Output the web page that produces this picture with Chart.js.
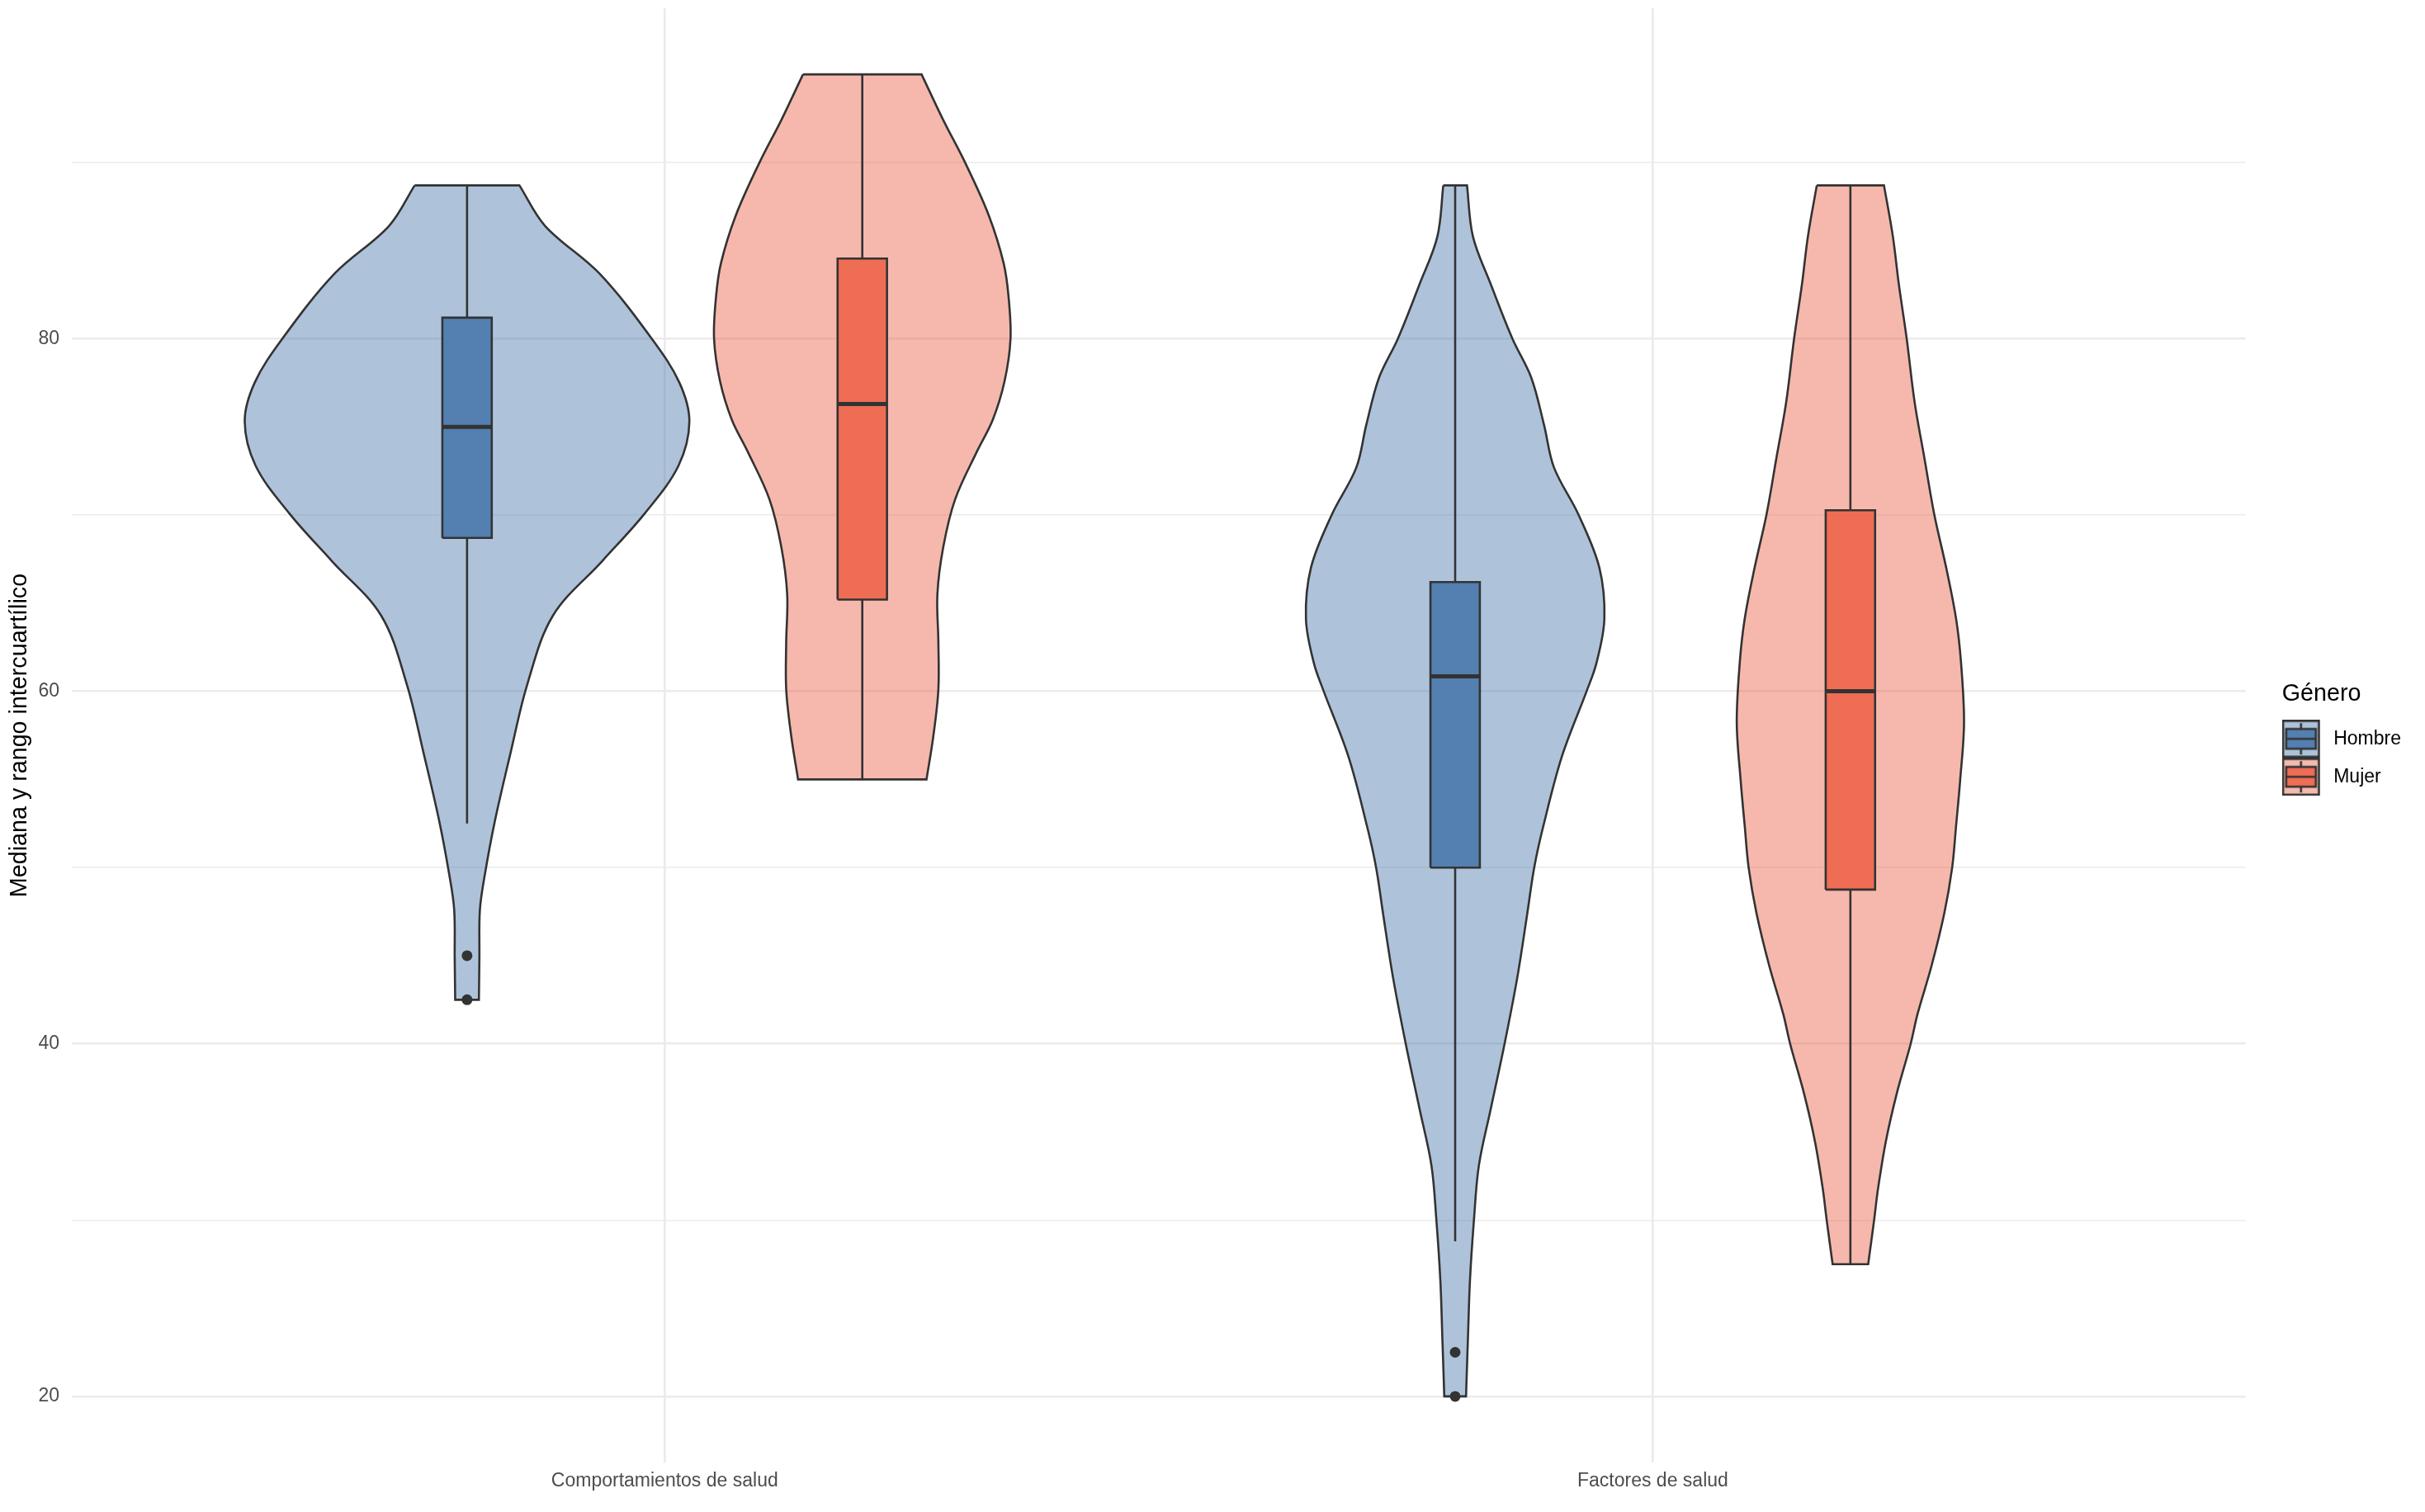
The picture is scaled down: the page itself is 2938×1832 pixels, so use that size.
<!DOCTYPE html>
<html lang="es">
<head>
<meta charset="UTF-8">
<title>Mediana y rango intercuartílico por género</title>
<script src="https://cdn.jsdelivr.net/npm/chart.js"></script>
<style>
  html, body { margin: 0; padding: 0; background: #fff; }
  #wrap { width: 2938px; height: 1832px; }
</style>
</head>
<body>
<div id="wrap"><canvas id="violinChart"></canvas></div>
<script>
// categories and groups
const categories = ['Comportamientos de salud', 'Factores de salud'];
const genders = ['Hombre', 'Mujer'];

// y ticks
const yMajorTicks = [20, 40, 60, 80];
const yMinorTicks = [30, 50, 70, 90];

// violin outlines, top to bottom: [value, half width in x-axis units]
const violinHombreComp = [[88.7, 0.053], [86.4, 0.079], [83.7, 0.134], [80.0, 0.187], [77.5, 0.215],
  [75.3, 0.225], [72.8, 0.214], [70.1, 0.180], [67.4, 0.137], [64.3, 0.087], [60.4, 0.061],
  [56.5, 0.044], [52.6, 0.028], [49.6, 0.018], [47.6, 0.013], [44.9, 0.0125], [42.5, 0.012]];
const violinMujerComp = [[95.0, 0.060], [92.4, 0.082], [90.0, 0.104], [87.0, 0.128], [84.3, 0.143],
  [82.4, 0.148], [80.0, 0.150], [77.6, 0.144], [75.4, 0.132], [73.6, 0.116], [70.9, 0.094],
  [68.2, 0.082], [65.5, 0.076], [62.8, 0.077], [60.1, 0.077], [57.5, 0.072], [55.0, 0.065]];
const violinHombreFact = [[88.7, 0.012], [85.8, 0.018], [83.1, 0.036], [80.0, 0.058], [77.8, 0.077],
  [75.1, 0.090], [72.7, 0.100], [70.0, 0.125], [67.0, 0.146], [64.1, 0.151], [61.6, 0.143],
  [60.0, 0.133], [56.3, 0.108], [52.3, 0.089], [50.0, 0.080], [47.4, 0.073], [43.8, 0.063],
  [40.0, 0.050], [36.3, 0.036], [33.1, 0.024], [30.0, 0.019], [26.6, 0.015], [23.4, 0.013], [20.0, 0.011]];
const violinMujerFact = [[88.7, 0.034], [85.8, 0.043], [83.1, 0.049], [80.0, 0.057], [76.4, 0.065],
  [73.2, 0.075], [70.0, 0.085], [67.0, 0.097], [64.1, 0.107], [61.6, 0.112], [58.2, 0.115],
  [54.9, 0.111], [52.4, 0.107], [50.0, 0.103], [47.4, 0.095], [44.4, 0.082], [41.7, 0.068],
  [40.0, 0.061], [37.2, 0.047], [34.5, 0.036], [31.8, 0.028], [30.0, 0.024], [27.5, 0.018]];

// boxes: [lower whisker, Q1, median, Q3, upper whisker]
const boxHombreComp = [52.5, 68.7, 75.0, 81.2, 88.7];
const boxMujerComp = [55.0, 65.2, 76.3, 84.55, 95.0];
const boxHombreFact = [28.8, 50.0, 60.85, 66.2, 88.7];
const boxMujerFact = [27.5, 48.75, 60.0, 70.27, 88.7];

// outliers
const outHombreComp = [45.0, 42.5];
const outMujerComp = [];
const outHombreFact = [22.5, 20.0];
const outMujerFact = [];

const boxColors = ['#5380B0', '#EE6D54'];
const violinColors = ['rgba(83,128,176,0.47)', 'rgba(235,105,80,0.47)'];
const legendFill = ['#AEC3DA', '#F5B9AE'];
const ink = '#333333';
const gridColor = '#EBEBEB';
const family = "'Liberation Sans', Arial, sans-serif";

const groups = [
  { cat: 0, g: 0, violin: violinHombreComp, box: boxHombreComp, out: outHombreComp },
  { cat: 0, g: 1, violin: violinMujerComp, box: boxMujerComp, out: outMujerComp },
  { cat: 1, g: 0, violin: violinHombreFact, box: boxHombreFact, out: outHombreFact },
  { cat: 1, g: 1, violin: violinMujerFact, box: boxMujerFact, out: outMujerFact }
];

const dodge = 0.2;
const boxHalf = 0.025;

function violinPoints(profile, cx) {
  const right = profile.map(([y, w]) => ({ x: cx + w, y }));
  const leftRev = profile.slice().reverse().map(([y, w]) => ({ x: cx - w, y }));
  const tl = leftRev[leftRev.length - 1], tr = right[0];
  const br = right[right.length - 1], bl = leftRev[0];
  // corners doubled so the flat ends stay straight under tension
  return [tl, tr].concat(right, [br, bl], leftRev, [tl]);
}

const datasets = [];
groups.forEach(gr => {
  const cx = gr.cat + 1 + (gr.g === 0 ? -dodge : dodge);
  const [lo, q1, med, q3, hi] = gr.box;
  datasets.push({
    data: violinPoints(gr.violin, cx),
    backgroundColor: violinColors[gr.g], borderColor: ink, borderWidth: 2.6,
    fill: 'shape', tension: 0.35, order: 4
  });
  datasets.push({
    data: [{ x: cx, y: lo }, { x: cx, y: hi }],
    borderColor: ink, borderWidth: 2.6, fill: false, order: 3
  });
  datasets.push({
    data: [{ x: cx - boxHalf, y: q1 }, { x: cx + boxHalf, y: q1 }, { x: cx + boxHalf, y: q3 },
      { x: cx - boxHalf, y: q3 }, { x: cx - boxHalf, y: q1 }],
    backgroundColor: boxColors[gr.g], borderColor: ink, borderWidth: 2.6,
    fill: 'shape', tension: 0, order: 2
  });
  datasets.push({
    data: [{ x: cx - boxHalf, y: med }, { x: cx + boxHalf, y: med }],
    borderColor: ink, borderWidth: 5, fill: false, order: 1
  });
  if (gr.out.length) {
    datasets.push({
      data: gr.out.map(v => ({ x: cx, y: v })),
      showLine: false, pointRadius: 6.5, pointBackgroundColor: ink, pointBorderWidth: 0, order: 0
    });
  }
});

// legend keys (violin square + small boxplot), padded on the right so the key lines up with the title
function legendIcon(i) {
  const c = document.createElement('canvas');
  c.width = 74; c.height = 46;
  const g = c.getContext('2d');
  g.fillStyle = legendFill[i];
  g.fillRect(1, 1, 44, 44);
  g.strokeStyle = ink; g.lineWidth = 2.6;
  g.strokeRect(1.3, 1.3, 43.4, 43.4);
  g.beginPath(); g.moveTo(23, 4); g.lineTo(23, 42); g.stroke();
  g.fillStyle = boxColors[i];
  g.fillRect(5, 11, 36, 24);
  g.strokeRect(5, 11, 36, 24);
  g.beginPath(); g.moveTo(5, 23); g.lineTo(41, 23); g.stroke();
  return c;
}
const legendIcons = genders.map((_, i) => legendIcon(i));

// no extra room for edge labels: the panel spans the whole area like in ggplot
function noEdgePadding(s) {
  s.paddingTop = 0; s.paddingBottom = 0; s.paddingLeft = 0; s.paddingRight = 0;
}

Chart.defaults.font.family = family;

new Chart(document.getElementById('violinChart'), {
  type: 'line',
  data: { datasets },
  options: {
    responsive: true,
    maintainAspectRatio: false,
    animation: false,
    events: [],
    elements: { point: { radius: 0 } },
    layout: { padding: { top: 10, right: 19, bottom: 0, left: 0 } },
    scales: {
      x: {
        type: 'linear', min: 0.4, max: 2.6,
        afterBuildTicks: s => { s.ticks = categories.map((_, i) => ({ value: i + 1 })); },
        afterFit: s => { s.height = 60; noEdgePadding(s); },
        grid: { color: gridColor, lineWidth: 2.6, drawTicks: false },
        border: { display: false },
        ticks: {
          padding: 9, color: '#4D4D4D', font: { size: 23 }, maxRotation: 0, autoSkip: false,
          callback: v => categories[Math.round(v) - 1]
        }
      },
      y: {
        type: 'linear', min: 16.25, max: 98.75,
        afterBuildTicks: s => {
          s.ticks = yMajorTicks.concat(yMinorTicks).sort((a, b) => a - b).map(v => ({ value: v }));
        },
        afterFit: s => { s.width = 87; noEdgePadding(s); },
        grid: {
          color: gridColor, drawTicks: false,
          lineWidth: ctx => (yMajorTicks.includes(ctx.tick && ctx.tick.value) ? 2.6 : 1.4)
        },
        border: { display: false },
        ticks: {
          padding: 15, color: '#4D4D4D', font: { size: 23 }, autoSkip: false,
          callback: v => (yMajorTicks.includes(v) ? String(v) : '')
        },
        title: {
          display: true, text: 'Mediana y rango intercuartílico', color: '#000',
          font: { size: 28.7 }, padding: { top: 7, bottom: 0 }
        }
      },
      gap: {
        type: 'linear', axis: 'y', position: 'right', display: true,
        grid: { display: false, drawTicks: false }, border: { display: false },
        ticks: { display: false },
        afterFit: s => { s.width = 44; noEdgePadding(s); }
      }
    },
    plugins: {
      tooltip: { enabled: false },
      legend: {
        position: 'right', align: 'center', fullSize: false,
        onClick: () => {},
        title: {
          display: true, text: 'Género', color: '#000', position: 'start',
          font: { size: 28.7 }, padding: { top: 20, bottom: 0 }
        },
        labels: {
          usePointStyle: true, pointStyleWidth: 28, padding: 23,
          color: '#000', font: { size: 23 },
          generateLabels: () => genders.map((g, i) => ({
            text: g, pointStyle: legendIcons[i], fillStyle: boxColors[i],
            strokeStyle: ink, lineWidth: 0, hidden: false, datasetIndex: i
          }))
        }
      }
    }
  }
});
</script>
</body>
</html>
